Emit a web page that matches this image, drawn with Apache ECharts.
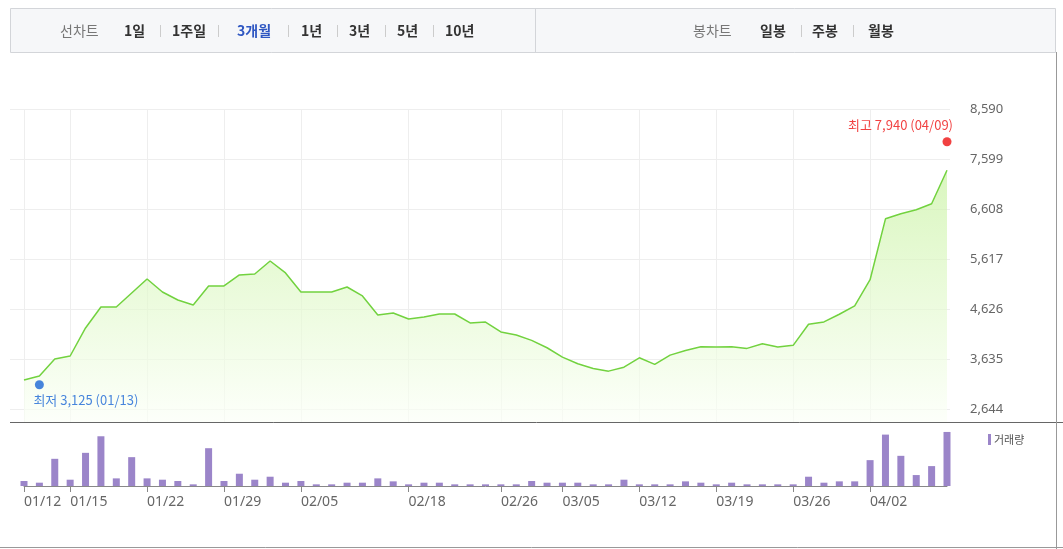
<!DOCTYPE html>
<html><head><meta charset="utf-8">
<script src="https://cdn.jsdelivr.net/npm/echarts@6/dist/echarts.min.js"></script>
<style>html,body{margin:0;padding:0;background:#fff}#c{width:1063px;height:549px}</style>
</head><body><div id="c"></div>
<script>
const dates=['01/12','01/13','01/14','01/15','01/16','01/19','01/20','01/21','01/22','01/23','01/26','01/27','01/28','01/29','01/30','02/02','02/03','02/04','02/05','02/06','02/09','02/10','02/11','02/12','02/13','02/18','02/19','02/20','02/23','02/24','02/25','02/26','02/27','03/03','03/04','03/05','03/06','03/09','03/10','03/11','03/12','03/13','03/16','03/17','03/18','03/19','03/20','03/23','03/24','03/25','03/26','03/27','03/30','03/31','04/01','04/02','04/03','04/06','04/07','04/08','04/09'];
const price=[3219,3298,3635,3694,4250,4666,4666,4943,5221,4963,4804,4705,5082,5082,5300,5320,5577,5340,4963,4963,4963,5062,4884,4507,4547,4428,4467,4527,4527,4349,4368,4170,4111,4004,3858,3673,3540,3447,3394,3473,3659,3527,3712,3805,3878,3872,3878,3845,3938,3872,3905,4323,4370,4522,4688,5206,6413,6513,6593,6712,7375];
const volume=[15,10,82,19,100,150,23,87,23,19,15,5,114,15,37,19,28,10,15,5,5,10,10,23,14,5,10,10,5,5,5,5,5,15,10,10,10,5,5,19,5,5,5,14,10,5,10,5,5,5,5,28,10,14,14,78,155,91,33,60,163];
const yTicks=['2,644','3,635','4,626','5,617','6,608','7,599','8,590'];
const labelDates=['01/12','01/15','01/22','01/29','02/05','02/18','02/26','03/05','03/12','03/19','03/26','04/02'];
const low={date:'01/13',value:3125}, high={date:'04/09',value:7940};
const show=(i,v)=>labelDates.indexOf(v)>=0;
const tabs=[['선차트',60,'#777',false],['1일',124,'#333',true],['1주일',172,'#333',true],['3개월',237,'#2f57c2',true],['1년',301,'#333',true],['3년',349,'#333',true],['5년',397,'#333',true],['10년',445,'#333',true],
 ['봉차트',693,'#777',false],['일봉',760,'#333',true],['주봉',812,'#333',true],['월봉',868,'#333',true]];
const g=[{type:'rect',shape:{x:10.5,y:8.5,width:1045,height:44},style:{fill:'#f6f7f9',stroke:'#d3d5d9'}},
 {type:'line',shape:{x1:535.5,y1:9,x2:535.5,y2:52},style:{stroke:'#d3d5d9'}},
 {type:'line',shape:{x1:10,y1:422.5,x2:1063,y2:422.5},style:{stroke:'#666',lineWidth:1}},
 {type:'line',shape:{x1:0,y1:547.5,x2:1063,y2:547.5},style:{stroke:'#999',lineWidth:1}},
 {type:'line',shape:{x1:1056.5,y1:52,x2:1056.5,y2:549},style:{stroke:'#999',lineWidth:1}},
 {type:'rect',shape:{x:988,y:434,width:3,height:11},style:{fill:'#9b85c9'}},
 {type:'text',x:994,y:440,style:{text:'거래량',fill:'#555',font:'11px "Noto Sans CJK KR"',verticalAlign:'middle'}}];
tabs.forEach(t=>g.push({type:'text',x:t[1],y:31,style:{text:t[0],fill:t[2],font:(t[3]?'bold ':'')+'14px "Noto Sans CJK KR"',verticalAlign:'middle'}}));
[160,218,288,337,385,433,801,853].forEach(x=>g.push({type:'line',shape:{x1:x+0.5,y1:25,x2:x+0.5,y2:37},style:{stroke:'#ccc'}}));
const chart=echarts.init(document.getElementById('c'));
chart.setOption({
 animation:false,
 graphic:g,
 grid:[{left:24,right:116,top:109,height:313},{left:24,right:116,top:422,height:64},{left:10,right:113,top:109,height:300}],
 xAxis:[
  {type:'category',gridIndex:0,data:dates,boundaryGap:false,axisLine:{show:false},axisTick:{show:false},axisLabel:{show:false},
   splitLine:{show:true,interval:show,lineStyle:{color:'#eeeeee'}}},
  {type:'category',gridIndex:1,data:dates,boundaryGap:false,axisLine:{lineStyle:{color:'#888'}},
   axisTick:{interval:show,length:6,lineStyle:{color:'#888'}},axisLabel:{interval:show,color:'#666',fontSize:14,fontFamily:'Noto Sans',margin:9,align:'left'}},
  {type:'value',gridIndex:2,show:false}
 ],
 yAxis:[
  {type:'value',gridIndex:0,min:2386,max:8590,show:false,splitLine:{show:false}},
  {type:'value',gridIndex:1,min:0,max:193,show:false},
  {type:'category',gridIndex:2,data:yTicks,boundaryGap:false,position:'right',axisLine:{show:false},axisTick:{show:false},
   axisLabel:{color:'#666',fontSize:13,fontFamily:'Noto Sans',margin:20},splitLine:{show:true,lineStyle:{color:'#eeeeee'}}}
 ],
 series:[
  {type:'line',xAxisIndex:0,yAxisIndex:0,data:price,symbol:'none',lineStyle:{color:'#72d23f',width:1.5},
   areaStyle:{color:new echarts.graphic.LinearGradient(0,0,0,1,[{offset:0,color:'#c9f2a3'},{offset:1,color:'#fbfff7'}])},z:3},
  {type:'scatter',xAxisIndex:0,yAxisIndex:0,symbolSize:9,z:5,
   data:[{value:[low.date,low.value],itemStyle:{color:'#1a66d6'},label:{show:true,position:'bottom',align:'left',offset:[-6,0],distance:4,
     formatter:'최저 3,125 (01/13)',color:'#1a66d6',fontSize:13,fontFamily:'Noto Sans CJK KR'}},
    {value:[high.date,high.value],itemStyle:{color:'#ee1111'},label:{show:true,position:'top',align:'right',offset:[6,0],distance:6,
     formatter:'최고 7,940 (04/09)',color:'#ee1111',fontSize:13,fontFamily:'Noto Sans CJK KR'}}]},
  {type:'bar',xAxisIndex:1,yAxisIndex:1,data:volume,barWidth:7,itemStyle:{color:'#9b85c9'}}
 ]
});
</script></body></html>
